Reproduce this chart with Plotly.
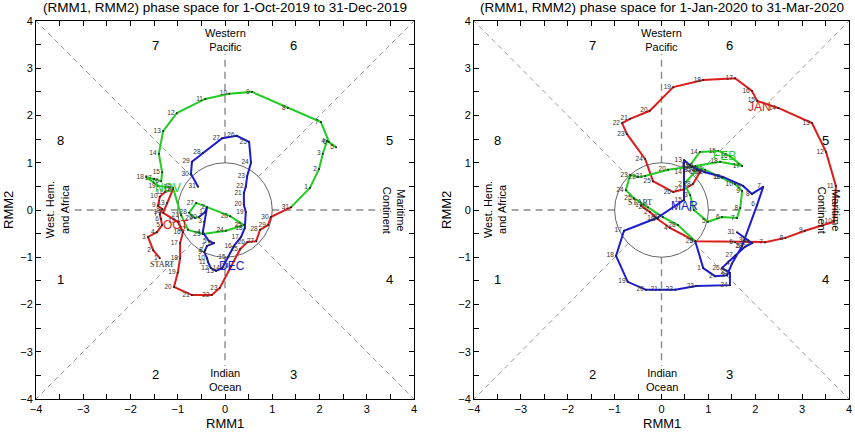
import plotly.graph_objects as go

# ---- left panel: 1-Oct-2019 to 31-Dec-2019 ----
oct_rmm1 = [-1.38, -1.52, -1.63, -1.44, -1.33, -1.35, -1.38, -1.33, -1.42, -1.38,
            -1.27, -1.10, -1.23, -1.31, -1.00, -0.89, -0.95, -0.95, -1.00, -1.08,
            -0.70, -0.28, -0.11, 0.13, 0.32, 0.47, 0.66, 0.74, 0.91, 0.97, 1.40]
oct_rmm2 = [-1.02, -0.85, -0.57, -0.47, -0.32, -0.19, -0.09, 0.02, 0.09, 0.28,
            0.38, 0.44, 0.15, -0.06, -0.25, -0.47, -0.70, -1.02, -1.33, -1.63,
            -1.80, -1.80, -1.65, -1.19, -0.83, -0.68, -0.66, -0.42, -0.32, -0.15, 0.06]
nov_rmm1 = [1.80, 1.99, 2.07, 2.16, 2.35, 2.20, 2.03, 1.33, 0.57, 0.09,
            -0.42, -1.02, -1.31, -1.40, -1.33, -1.35, -1.50, -1.67, -1.42, -1.10,
            -0.93, -0.78, -0.47, 0.02, 0.40, 0.11, -0.61, -0.76, -0.64, -0.55]
nov_rmm2 = [0.47, 0.87, 1.19, 1.46, 1.33, 1.44, 1.86, 2.16, 2.50, 2.46,
            2.35, 2.05, 1.67, 1.19, 0.80, 0.61, 0.66, 0.70, 0.51, 0.47,
            -0.11, -0.42, -0.51, -0.44, -0.32, -0.13, 0.15, -0.06, -0.17, -0.15]
dec_rmm1 = [-0.42, -0.38, -0.44, -0.47, -0.34, -0.23, -0.38, -0.42, -0.44, -0.38,
            -0.36, -0.30, -0.19, -0.06, 0.06, 0.19, 0.34, 0.42, 0.44, 0.40,
            0.40, 0.44, 0.47, 0.55, 0.51, 0.25, -0.06, -0.47, -0.70, -0.72, -0.57]
dec_rmm2 = [-0.04, 0.06, -0.25, -0.47, -0.66, -0.70, -0.76, -0.85, -0.89, -1.02,
            -1.10, -1.23, -1.29, -1.23, -1.00, -0.76, -0.57, -0.38, -0.04, 0.11,
            0.36, 0.49, 0.72, 1.00, 1.44, 1.57, 1.52, 1.21, 1.02, 0.76, 0.49]

# ---- right panel: 1-Jan-2020 to 31-Mar-2020 ----
jan_rmm1 = [-0.44, -0.25, -0.08, 0.18, 0.72, 1.57, 2.21, 2.64, 3.06, 3.68,
            3.72, 3.51, 3.21, 2.49, 2.04, 1.93, 1.57, 0.89, 0.25, -0.25,
            -0.67, -0.84, -0.74, -0.35, -0.18, 0.25, 0.48, 0.67, 0.82, 0.76, 0.69]
jan_rmm2 = [0.09, -0.04, -0.19, -0.38, -0.66, -0.68, -0.68, -0.59, -0.44, -0.25,
            0.51, 1.23, 1.84, 2.16, 2.31, 2.52, 2.79, 2.75, 2.60, 2.10,
            1.93, 1.84, 1.61, 1.08, 0.61, 0.38, 0.44, 0.55, 0.80, 0.85, 0.83]
feb_rmm1 = [0.76, 0.48, 0.61, 0.69, 0.99, 1.29, 1.61, 1.68, 1.72, 1.57,
            1.29, 0.93, 0.61, 0.82, 1.21, 1.46, 1.72, 1.25, 0.72, 0.14,
            -0.35, -0.50, -0.67, -0.76, -0.59, -0.29, 0.03, 0.35, 0.72]
feb_rmm2 = [0.85, 0.55, 0.32, 0.00, -0.25, -0.15, -0.17, 0.04, 0.40, 0.55,
            0.68, 0.85, 0.95, 1.23, 1.25, 1.14, 0.93, 1.02, 0.93, 0.85,
            0.72, 0.70, 0.74, 0.42, 0.25, 0.06, -0.15, -0.32, -0.66]
mar_rmm1 = [0.89, 1.14, 1.40, 1.50, 1.72, 2.04, 2.17, 1.93, 1.74, 1.31,
            0.93, 0.65, 0.48, 0.48, 0.48, -0.10, -0.80, -0.97, -0.72, -0.33,
            -0.03, 0.29, 0.74, 1.46, 1.46, 1.29, 1.57, 1.78, 1.93, 1.85, 1.61]
mar_rmm2 = [-1.23, -1.40, -1.38, -1.14, -0.76, 0.11, 0.49, 0.34, 0.51, 0.70,
            0.80, 0.91, 1.06, 0.80, 0.21, -0.17, -0.44, -0.97, -1.52, -1.69,
            -1.69, -1.69, -1.61, -1.59, -1.33, -1.23, -0.97, -0.78, -0.70, -0.64, -0.47]

titles = ["(RMM1, RMM2) phase space for 1-Oct-2019 to 31-Dec-2019",
          "(RMM1, RMM2) phase space for 1-Jan-2020 to 31-Mar-2020"]
month_names = [["OCT", "NOV", "DEC"], ["JAN", "FEB", "MAR"]]
month_label_x = [[-1.04, -1.21, 0.15], [2.10, 1.35, 0.50]]
month_label_y = [[-0.32, 0.47, -1.19], [2.18, 1.14, 0.08]]
start_xy = [(-1.33, -1.15), (-0.46, 0.15)]
colors = ["#dd1c1c", "#22cc22", "#1c1cd2"]

panels = [
    [(oct_rmm1, oct_rmm2), (nov_rmm1, nov_rmm2), (dec_rmm1, dec_rmm2)],
    [(jan_rmm1, jan_rmm2), (feb_rmm1, feb_rmm2), (mar_rmm1, mar_rmm2)],
]

phase_nums = ["1", "2", "3", "4", "5", "6", "7", "8"]
phase_x = [-3.49, -1.48, 1.44, 3.49, 3.49, 1.44, -1.48, -3.49]
phase_y = [-1.48, -3.49, -3.49, -1.48, 1.48, 3.49, 3.49, 1.48]

fig = go.Figure()
shapes = []
annotations = []

for p, months in enumerate(panels):
    xa = "x" if p == 0 else "x2"
    ya = "y" if p == 0 else "y2"

    # guide lines
    for (x0, y0, x1, y1) in [(1, 0, 3.3, 0), (-1, 0, -3.3, 0), (0, 1, 0, 3.3), (0, -1, 0, -3.3)]:
        shapes.append(dict(type="line", xref=xa, yref=ya, x0=x0, y0=y0, x1=x1, y1=y1,
                           line=dict(color="#8a8a8a", width=1.4, dash="7px,5px"), layer="below"))
    d = 0.7071
    for sx, sy in [(1, 1), (-1, 1), (1, -1), (-1, -1)]:
        shapes.append(dict(type="line", xref=xa, yref=ya, x0=sx * d, y0=sy * d, x1=sx * 4, y1=sy * 4,
                           line=dict(color="#9a9a9a", width=1, dash="5px,4px"), layer="below"))
    shapes.append(dict(type="circle", xref=xa, yref=ya, x0=-1, y0=-1, x1=1, y1=1,
                       line=dict(color="#555555", width=0.9), layer="below"))

    # month tracks, each joined to the previous month's last point
    prev = None
    for m, (rx, ry) in enumerate(months):
        lx = list(rx)
        ly = list(ry)
        if prev is not None:
            lx = [prev[0]] + lx
            ly = [prev[1]] + ly
        fig.add_trace(go.Scatter(x=lx, y=ly, mode="lines", xaxis=xa, yaxis=ya,
                                 line=dict(color=colors[m], width=2), hoverinfo="skip"))
        prev = (rx[-1], ry[-1])
    for m, (rx, ry) in enumerate(months):
        days = [str(i + 1) for i in range(len(rx))]
        fig.add_trace(go.Scatter(x=rx, y=ry, mode="markers+text", xaxis=xa, yaxis=ya,
                                 text=days, textposition="middle left",
                                 textfont=dict(size=6.5, color="#333333"),
                                 marker=dict(size=2, color="#222222"), hoverinfo="skip"))
        annotations.append(dict(x=month_label_x[p][m], y=month_label_y[p][m], xref=xa, yref=ya,
                                text=month_names[p][m], showarrow=False,
                                font=dict(size=12, color=colors[m], family="Liberation Sans")))

    annotations.append(dict(x=start_xy[p][0], y=start_xy[p][1], xref=xa, yref=ya, text="START",
                            showarrow=False, font=dict(size=8, color="#222222", family="Liberation Serif")))

    for t, px_, py_ in zip(phase_nums, phase_x, phase_y):
        annotations.append(dict(x=px_, y=py_, xref=xa, yref=ya, text=t, showarrow=False,
                                font=dict(size=13, color="black")))
    annotations.append(dict(x=0, y=3.6, xref=xa, yref=ya, text="Western<br>Pacific", showarrow=False,
                            font=dict(size=11, color="black")))
    annotations.append(dict(x=0, y=-3.6, xref=xa, yref=ya, text="Indian<br>Ocean", showarrow=False,
                            font=dict(size=11, color="black")))
    annotations.append(dict(x=-3.55, y=0, xref=xa, yref=ya, text="West. Hem.<br>and Africa", textangle=-90,
                            showarrow=False, font=dict(size=11, color="black")))
    annotations.append(dict(x=3.58, y=0, xref=xa, yref=ya, text="Maritime<br>Continent", textangle=90,
                            showarrow=False, font=dict(size=11, color="black")))

    annotations.append(dict(x=0, y=4.0, xref=xa, yref=ya, yshift=13, text=titles[p], showarrow=False,
                            font=dict(size=13.5, color="black")))
    annotations.append(dict(x=0, y=-4.0, xref=xa, yref=ya, yshift=-24, text="RMM1", showarrow=False,
                            font=dict(size=13, color="black")))
    annotations.append(dict(x=-4.0, y=0, xref=xa, yref=ya, xshift=-28, text="RMM2", textangle=-90,
                            showarrow=False, font=dict(size=13, color="black")))

axis_style = dict(range=[-4, 4], dtick=1, tick0=-4, ticks="inside", ticklen=5, tickwidth=1,
                  tickcolor="black", showline=True, linecolor="black", linewidth=1,
                  mirror="ticks", showgrid=False, zeroline=False, automargin=False,
                  tickfont=dict(size=11, color="black"),
                  minor=dict(dtick=0.5, ticks="inside", ticklen=5, tickcolor="black"))

fig.update_layout(
    width=855, height=436,
    margin=dict(l=0, r=0, t=0, b=0, autoexpand=False),
    paper_bgcolor="white", plot_bgcolor="white",
    showlegend=False,
    font=dict(family="Liberation Sans", color="black"),
    xaxis=dict(domain=[36 / 855, 414 / 855], anchor="y", **axis_style),
    yaxis=dict(domain=[37 / 436, 415 / 436], anchor="x", **axis_style),
    xaxis2=dict(domain=[474 / 855, 849 / 855], anchor="y2", **axis_style),
    yaxis2=dict(domain=[37 / 436, 415 / 436], anchor="x2", **axis_style),
    shapes=shapes,
    annotations=annotations,
)

# drop the browser's default page margin so the figure sits at the top-left corner
fig.write_html("out.html", config={"displayModeBar": False},
               post_script="document.documentElement.style.margin='0';document.body.style.margin='0';document.body.style.padding='0';")
